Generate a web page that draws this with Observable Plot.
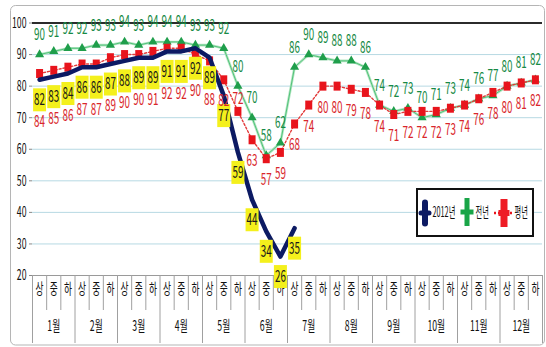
<!DOCTYPE html>
<html><head><meta charset="utf-8">
<script src="https://cdn.jsdelivr.net/npm/d3@7"></script>
<script src="https://cdn.jsdelivr.net/npm/@observablehq/plot@0.6"></script>
<style>body{margin:0;background:#fff}svg{display:block}</style>
</head><body><div id="chart"></div>
<script>
const months = ["1월","2월","3월","4월","5월","6월","7월","8월","9월","10월","11월","12월"];
const dekads = ["상","중","하"];
const yTicks = [20,30,40,50,60,70,80,90,100];
const legendLabels = ["2012년","전년","평년"];
// 2012 storage rate (%), Jan 상 .. Jul 상
const series2012 = [82,83,84,86,86,87,88,89,89,91,91,92,89,77,59,44,34,26,35];
// previous year (전년)
const seriesLast = [90,91,92,92,93,93,94,93,94,94,94,93,93,92,80,70,58,62,86,90,89,88,88,86,74,72,73,70,71,73,74,76,77,80,81,82];
// normal year (평년)
const seriesAvg = [84,85,86,87,87,89,90,90,91,92,92,90,88,82,72,63,57,59,68,74,80,80,79,78,74,71,72,72,72,73,74,76,78,80,81,82];

const n = months.length * dekads.length;
const idx = d3.range(n);
const rows = vals => vals.map((v, i) => ({i, x: i + 0.5, v}));
const d2012 = rows(series2012), dLast = rows(seriesLast), dAvg = rows(seriesAvg);
const FONT = "'Noto Sans CJK KR','Noto Sans',sans-serif";
const NAVY = "#0c1a63", GREEN = "#1f9e4b", GREENTXT = "#178a45", RED = "#e8141c", REDTXT = "#d9262b", YEL = "#f4f01c";
const rectSym = (w, h) => ({draw(ctx) { ctx.moveTo(-w/2, -h/2); ctx.lineTo(w/2, -h/2); ctx.lineTo(w/2, h/2); ctx.lineTo(-w/2, h/2); ctx.closePath(); }});
const shiftedBelow2012 = 13; // avg labels pushed under the 2012 labels for the first dekads

const chart = Plot.plot({
  width: 546, height: 347,
  marginLeft: 32, marginRight: 4, marginTop: 22.5, marginBottom: 72,
  style: {fontFamily: FONT, background: "white", overflow: "visible"},
  x: {type: "linear", domain: [0, n]},
  y: {domain: [20, 100]},
  marks: [
    Plot.gridY(d3.range(30, 100, 10), {stroke: "#b7d9e3", strokeOpacity: 1}),
    Plot.ruleY([20], {stroke: "#9a9a9a"}),
    Plot.ruleY([100], {stroke: "#2b2b2b", strokeWidth: 2}),
    Plot.axisY({ticks: yTicks, tickSize: 3, tickPadding: 3, fontSize: 15, stroke: "#888", fill: "#111", label: null}),
    Plot.axisX({ticks: d3.range(0, n + 1).filter(i => i % 3 !== 0), tickSize: 35, tickFormat: () => "", stroke: "#a0a0a0", label: null}),
    Plot.axisX({ticks: d3.range(0, n + 1, 3), tickSize: 68, tickFormat: () => "", stroke: "#a0a0a0", label: null}),
    Plot.text(idx, {x: i => i + 0.5, text: i => dekads[i % 3], frameAnchor: "bottom", dy: 18, fontSize: 15, fill: "#111"}),
    Plot.text(months, {x: (m, k) => k * 3 + 1.5, text: d => d, frameAnchor: "bottom", dy: 55, fontSize: 15, fill: "#111"}),
    Plot.line(dLast, {x: "x", y: "v", stroke: "#b3e6c2", strokeWidth: 2.6}),
    Plot.line(dLast, {x: "x", y: "v", stroke: "#45bd70", strokeWidth: 0.9}),
    Plot.line(dAvg, {x: "x", y: "v", stroke: "#e23a3a", strokeWidth: 1.4, strokeDasharray: "2,2"}),
    Plot.dot(dLast, {x: "x", y: "v", symbol: "triangle", r: 3.4, fill: GREEN}),
    Plot.dot(dAvg, {x: "x", y: "v", symbol: rectSym(7, 9), fill: RED}),
    Plot.line(d2012, {x: "x", y: "v", stroke: NAVY, strokeWidth: 4.5, strokeLinejoin: "round"}),
    Plot.dot(d2012, {x: "x", y: "v", symbol: rectSym(13, 23), fill: YEL, dy: 20}),
    Plot.text(d2012, {x: "x", y: "v", text: "v", dy: 20, fill: "#1a1a1a", fontSize: 17}),
    Plot.text(dLast, {x: "x", y: "v", text: "v", dy: -20, fill: GREENTXT, fontSize: 17}),
    Plot.text(dAvg.filter(d => d.i < shiftedBelow2012), {x: "x", y: d => series2012[d.i], text: "v", dy: 42, fill: REDTXT, fontSize: 17}),
    Plot.text(dAvg.filter(d => d.i === shiftedBelow2012 + 1), {x: "x", y: "v", text: "v", dy: -13, fill: REDTXT, fontSize: 17}),
    Plot.text(dAvg.filter(d => d.i === shiftedBelow2012 || d.i > shiftedBelow2012 + 1), {x: "x", y: "v", text: "v", dy: 21, fill: REDTXT, fontSize: 17})
  ]
});

// condensed look
chart.querySelectorAll("text").forEach(t => {
  const tr = t.getAttribute("transform");
  if (tr) t.setAttribute("transform", tr + " scale(0.58,1)");
});

const svg = d3.select(chart);
svg.insert("rect", ":first-child").attr("x", 10.5).attr("y", 5.5).attr("width", 534).attr("height", 339.5)
  .attr("rx", 5).attr("fill", "none").attr("stroke", "#b5b5b5");

// legend
const lg = svg.append("g");
lg.append("rect").attr("x", 417).attr("y", 189).attr("width", 116).attr("height", 47)
  .attr("fill", "white").attr("stroke", "#111").attr("stroke-width", 2);
function cross(cx, cy, vw, vh, hw, hh, color, round) {
  lg.append("rect").attr("x", cx - vw/2).attr("y", cy - vh/2).attr("width", vw).attr("height", vh)
    .attr("rx", round ? vw/2 : 0).attr("fill", color);
  lg.append("rect").attr("x", cx - hw/2).attr("y", cy - hh/2).attr("width", hw).attr("height", hh)
    .attr("rx", round ? hh/2 : 0).attr("fill", color);
}
cross(425, 213, 6, 27, 13, 5, NAVY, true);
cross(467, 212, 5, 28, 13, 5, "#19a548", false);
lg.append("line").attr("x1", 494).attr("x2", 514).attr("y1", 213).attr("y2", 213)
  .attr("stroke", RED).attr("stroke-width", 2.5).attr("stroke-dasharray", "2,2");
cross(504, 213, 7, 28, 11, 6, "#ee1c25", false);
const lx = [432.5, 475.5, 514.5];
legendLabels.forEach((t, k) => {
  lg.append("text").attr("transform", `translate(${lx[k]},213) scale(0.52,1)`)
    .attr("text-anchor", "start").attr("dominant-baseline", "middle")
    .attr("font-size", 14).attr("fill", "#111")
    .attr("font-family", FONT).text(t);
});

document.getElementById("chart").appendChild(chart);
</script>
</body></html>
